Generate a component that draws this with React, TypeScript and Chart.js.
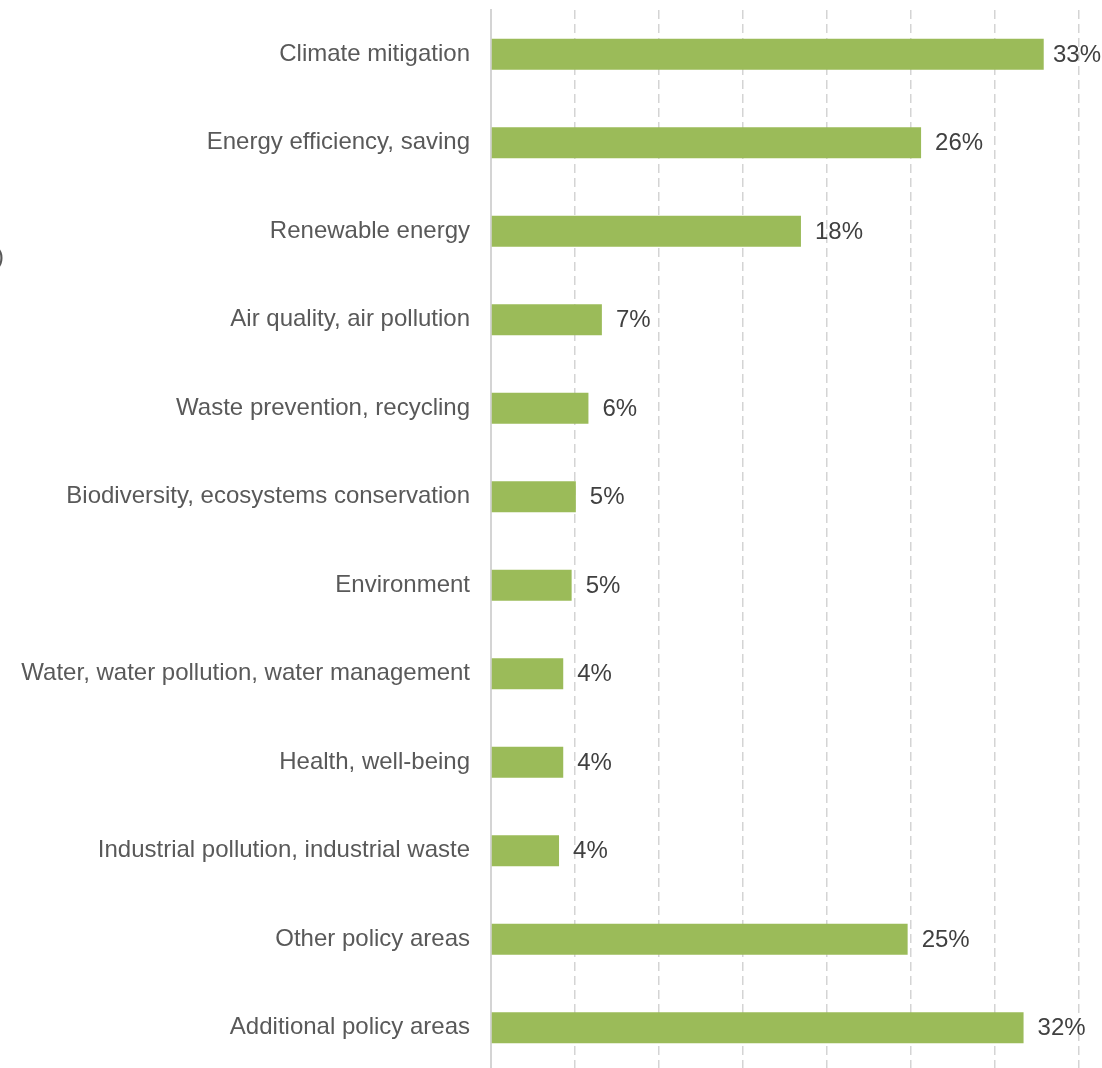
import React, { useEffect, useRef } from "react";
import { Chart, registerables } from "chart.js";

Chart.register(...registerables);

const categories = [
  "Climate mitigation",
  "Energy efficiency, saving",
  "Renewable energy",
  "Air quality, air pollution",
  "Waste prevention, recycling",
  "Biodiversity, ecosystems conservation",
  "Environment",
  "Water, water pollution, water management",
  "Health, well-being",
  "Industrial pollution, industrial waste",
  "Other policy areas",
  "Additional policy areas",
];

const values = [32.9, 25.6, 18.45, 6.6, 5.8, 5.05, 4.8, 4.3, 4.3, 4.05, 24.8, 31.7];
const labels = ["33%", "26%", "18%", "7%", "6%", "5%", "5%", "4%", "4%", "4%", "25%", "32%"];

const FONT = "'Liberation Sans', Arial, sans-serif";

const valueLabelPlugin = {
  id: "valueLabels",
  afterDatasetsDraw(chart: any) {
    const ctx = chart.ctx;
    const meta = chart.getDatasetMeta(0);
    ctx.save();
    ctx.font = `24px ${FONT}`;
    ctx.fillStyle = "#404040";
    ctx.textAlign = "left";
    ctx.textBaseline = "middle";
    meta.data.forEach((bar: any, i: number) => {
      const w = ctx.measureText(labels[i]).width;
      const x = Math.min(bar.x + 14, chart.width - 1 - w);
      ctx.fillText(labels[i], x, bar.y + 1);
    });
    ctx.restore();
  },
};

export default function App() {
  const ref = useRef<HTMLCanvasElement | null>(null);

  useEffect(() => {
    if (!ref.current) return;
    const chart = new Chart(ref.current, {
      type: "bar",
      data: {
        labels: categories,
        datasets: [
          {
            data: values,
            backgroundColor: "#9BBB59",
            borderWidth: 0,
            barPercentage: 0.7,
            categoryPercentage: 0.5,
          },
        ],
      },
      options: {
        indexAxis: "y",
        animation: false,
        responsive: false,
        maintainAspectRatio: false,
        layout: { padding: { top: 10, right: 23, bottom: 0, left: 0 } },
        plugins: {
          legend: { display: false },
          tooltip: { enabled: false },
        },
        scales: {
          x: {
            min: 0,
            max: 35,
            ticks: { display: false, stepSize: 5 },
            grid: {
              display: true,
              drawTicks: false,
              color: (c: any) => (c.tick && c.tick.value === 0 ? "rgba(0,0,0,0)" : "#d4d4d4"),
              lineWidth: 1.5,
            },
            border: { display: false, dash: [9, 5] },
            afterFit: (s: any) => {
              s.height = 0;
              s.paddingLeft = 0;
              s.paddingRight = 0;
            },
          },
          y: {
            ticks: {
              color: "#595959",
              font: { family: FONT, size: 24 },
              padding: 21,
            },
            grid: { display: false, drawTicks: false },
            border: { display: true, color: "#d4d4d4", width: 2 },
            afterFit: (s: any) => {
              s.width = 491;
              s.paddingTop = 0;
              s.paddingBottom = 0;
            },
          },
        },
      },
      plugins: [valueLabelPlugin],
    });
    return () => chart.destroy();
  }, []);

  return (
    <div style={{ position: "fixed", left: 0, top: 0, width: 1102, height: 1068, overflow: "hidden", background: "#fff" }}>
      <canvas ref={ref} width={1102} height={1072} style={{ position: "absolute", left: 0, top: 0 }} />
      <div
        style={{
          position: "absolute",
          left: -4,
          top: 242,
          fontFamily: FONT,
          fontSize: 24,
          color: "#595959",
        }}
      >
        )
      </div>
    </div>
  );
}
